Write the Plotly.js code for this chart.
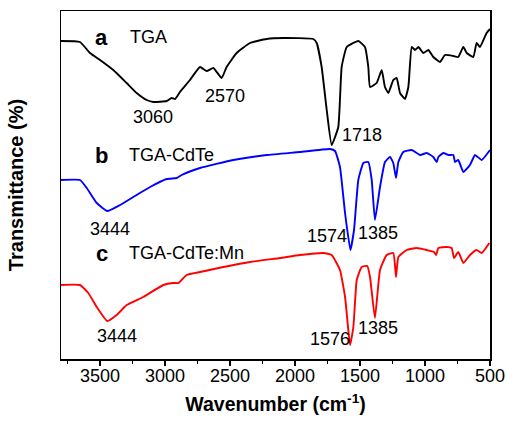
<!DOCTYPE html>
<html><head><meta charset="utf-8">
<script src="https://cdn.plot.ly/plotly-3.0.1.min.js"></script>
<style>html,body{margin:0;padding:0;background:#fff}#chart{width:507px;height:424px}</style>
</head><body><div id="chart"></div>
<script>
// TGA (a)
const tgaX = [3800,3654,3577,3500,3398,3295,3218,3141,3090,2987,2949,2923,2885,2808,2731,2679,2628,2564,2526,2449,2346,2218,2090,1859,1833,1795,1756,1718,1667,1641,1602,1513,1462,1436,1423,1372,1333,1308,1282,1244,1218,1192,1154,1128,1102,1077,1051,1013,974,936,885,846,782,744,705,679,628,603,577,526,500];
const tgaY = [318,317,306,299,289,276,266,259,257,258,261,260,267,279,292,288,291,281,292,306,316,320,321,320,316,292,249,214,232,292,312,318,312,292,272,276,289,272,266,279,281,266,260,272,312,309,312,306,309,302,297,304,303,302,312,306,302,316,312,326,330];
// TGA-CdTe (b)
const cdteX = [3800,3654,3602,3525,3444,3346,3244,3115,2987,2910,2872,2731,2474,2218,1962,1731,1692,1654,1615,1574,1546,1513,1474,1436,1410,1385,1346,1308,1269,1244,1223,1205,1167,1102,1038,987,936,910,897,859,821,782,769,744,705,654,615,564,500];
const cdteY = [179,179,171,156,148,154,162,172,180,181,184,191,199,204,207,210,208,192,146,109,129,179,196,197,179,139,172,197,202,196,181,197,207,209,204,206,202,197,202,206,204,204,197,199,187,194,204,199,209];
// TGA-CdTe:Mn (c)
const mnX = [3800,3654,3590,3525,3444,3372,3295,3167,3013,2936,2897,2833,2731,2346,2115,1962,1782,1718,1654,1615,1590,1576,1551,1525,1487,1444,1423,1385,1346,1295,1244,1223,1205,1141,1064,987,931,915,897,833,795,777,744,705,654,603,564,505];
const mnY = [74,74,66,52,38,44,54,62,74,76,76,84,87,97,101,104,106,104,89,62,29,14,32,79,92,93,82,41,89,104,106,82,102,109,111,109,107,104,111,112,111,101,107,96,104,109,106,116];

const xTicks = [3500,3000,2500,2000,1500,1000,500];

const font = 'Arial, "Liberation Sans", sans-serif';
const mk = (x,y,c)=>({x:x,y:y,type:'scatter',mode:'lines',line:{color:c,width:1.9,shape:'spline',smoothing:0.4},hoverinfo:'skip'});
const data = [mk(tgaX,tgaY,'#000000'), mk(cdteX,cdteY,'#0000ff'), mk(mnX,mnY,'#ff0000')];

const ann = (t,x,y,opt)=>Object.assign({text:t,x:x,y:y,xref:'x',yref:'y',showarrow:false,font:{family:font,size:18,color:'#000'},xanchor:'center',yanchor:'middle'},opt||{});
const bold = {font:{family:font,size:22,color:'#000'}};
const annotations = [
  ann('<b>a</b>',3485,322,bold), ann('TGA',3285,322,{xanchor:'left'}),
  ann('3060',3092,242), ann('2570',2538,263), ann('1718',1654,224,{xanchor:'left'}),
  ann('<b>b</b>',3485,204,bold), ann('TGA-CdTe',3292,204,{xanchor:'left'}),
  ann('3444',3423,130), ann('1574',1754,123), ann('1385',1362,126),
  ann('<b>c</b>',3485,106,bold), ann('TGA-CdTe:Mn',3292,106,{xanchor:'left'}),
  ann('3444',3369,23), ann('1576',1731,20), ann('1385',1362,31)
];

const layout = {
  width:507,height:424,
  margin:{l:61,r:17,t:11,b:65},
  paper_bgcolor:'#fff',plot_bgcolor:'#fff',
  showlegend:false,
  font:{family:font,color:'#000'},
  xaxis:{range:[3800,500],tickvals:xTicks,ticks:'outside',ticklen:5,tickwidth:1.3,tickcolor:'#000',
    minor:{dtick:250,ticks:'outside',ticklen:3,tickwidth:1,tickcolor:'#000'},
    tickfont:{family:font,size:18,color:'#000'},ticklabelstandoff:-5,
    showline:true,mirror:true,linecolor:'#000',linewidth:1.5,showgrid:false,zeroline:false,
    title:{text:'<b>Wavenumber (cm<sup>-1</sup>)</b>',font:{family:font,size:19.5,color:'#000'},standoff:12}},
  yaxis:{range:[0,348],showticklabels:false,ticks:'',showline:true,mirror:true,linecolor:'#000',linewidth:1.5,
    showgrid:false,zeroline:false,
    title:{text:'<b>Transmittance (%)</b>',font:{family:font,size:20,color:'#000'},standoff:30}},
  annotations:annotations
};
Plotly.newPlot('chart',data,layout,{staticPlot:true,displayModeBar:false});
</script></body></html>
